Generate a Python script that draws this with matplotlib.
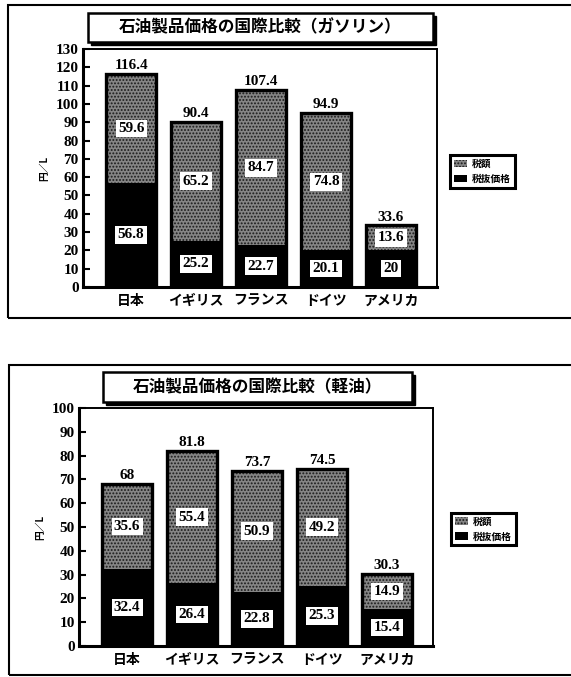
import numpy as np
import matplotlib
matplotlib.use("Agg")
import matplotlib.pyplot as plt
from matplotlib.patches import Rectangle

plt.rcParams['font.family'] = ['Noto Sans CJK JP', 'DejaVu Sans']
plt.rcParams['hatch.linewidth'] = 0.9

countries = ["日本", "イギリス", "フランス", "ドイツ", "アメリカ"]

gas_pretax = [56.8, 25.2, 22.7, 20.1, 20]
gas_tax = [59.6, 65.2, 84.7, 74.8, 13.6]
gas_total = [116.4, 90.4, 107.4, 94.9, 33.6]

diesel_pretax = [32.4, 26.4, 22.8, 25.3, 15.4]
diesel_tax = [35.6, 55.4, 50.9, 49.2, 14.9]
diesel_total = [68, 81.8, 73.7, 74.5, 30.3]

legend_labels = ["税額", "税抜価格"]
titles = ["石油製品価格の国際比較（ガソリン）", "石油製品価格の国際比較（軽油）"]

num_font = "Liberation Serif"


def fmt(v):
    return ("%g" % v)


def draw_chart(ax, pretax, tax, total, ymax, legend_xy):
    x = np.arange(len(countries))
    pretax = np.asarray(pretax)
    tax = np.asarray(tax)
    w = 0.78
    b1 = ax.bar(x, pretax, w, color='black', linewidth=0)
    b2 = ax.bar(x, tax, w, bottom=pretax, color='0.52', edgecolor='0.1',
                hatch='.....', linewidth=0)
    ax.bar(x, pretax + tax, w, fill=False, edgecolor='black', linewidth=2.4)

    for i in range(len(x)):
        ax.text(x[i], pretax[i] / 2.0, fmt(pretax[i]), ha='center', va='center',
                fontsize=11, family=num_font, fontweight='bold',
                bbox=dict(boxstyle='square,pad=0.15', fc='white', ec='none'))
        ax.text(x[i], pretax[i] + tax[i] / 2.0, fmt(tax[i]), ha='center', va='center',
                fontsize=11, family=num_font, fontweight='bold',
                bbox=dict(boxstyle='square,pad=0.15', fc='white', ec='none'))
        ax.text(x[i], pretax[i] + tax[i] + ymax * 0.008, fmt(total[i]), ha='center',
                va='bottom', fontsize=11, family=num_font, fontweight='bold')

    ax.set_xlim(-0.74, 4.71)
    ax.set_ylim(0, ymax)
    ax.set_yticks(np.arange(0, ymax + 1, 10))
    ax.set_yticklabels([str(v) for v in range(0, ymax + 1, 10)], family=num_font,
                       fontsize=11, fontweight='bold')
    ax.set_xticks(x)
    ax.set_xticklabels(countries, fontsize=10, fontweight='bold')
    ax.tick_params(axis='x', length=0, pad=5)
    ax.tick_params(axis='y', direction='in', length=5, width=1.5, pad=3)
    ax.spines['left'].set_linewidth(2.2)
    ax.spines['bottom'].set_linewidth(2.2)
    ax.spines['top'].set_linewidth(1.4)
    ax.spines['right'].set_linewidth(1.4)
    ax.set_ylabel("円／L", fontsize=7, fontweight='bold', labelpad=5)

    leg = ax.legend([b2, b1], legend_labels, loc='upper left',
                    bbox_to_anchor=legend_xy, bbox_transform=ax.figure.transFigure,
                    prop=dict(family='Noto Sans CJK JP', size=7, weight='bold'),
                    fancybox=False, edgecolor='black', framealpha=1,
                    handlelength=1.4, handleheight=0.8, borderpad=0.4,
                    labelspacing=0.5, handletextpad=0.5)
    leg.get_frame().set_linewidth(2.2)


fig = plt.figure(figsize=(5.71, 6.77), dpi=100)

ax1 = fig.add_axes([0.1454, 0.5761, 0.62, 0.3515])
draw_chart(ax1, gas_pretax, gas_tax, gas_total, 130, (0.779, 0.778))

ax2 = fig.add_axes([0.1384, 0.0458, 0.62, 0.3516])
draw_chart(ax2, diesel_pretax, diesel_tax, diesel_total, 100, (0.781, 0.250))

# outer frames
fig.patches.append(Rectangle((0.014, 0.530), 1.0, 0.462, transform=fig.transFigure,
                             fill=False, edgecolor='black', linewidth=1.5))
fig.patches.append(Rectangle((0.016, 0.003), 1.0, 0.458, transform=fig.transFigure,
                             fill=False, edgecolor='black', linewidth=1.5))

# title boxes with a small drop shadow
dx = 3.0 / 571
dy = 3.0 / 677
for (x0, y0, w, h), t in zip([(0.154, 0.938, 0.604, 0.0428),
                              (0.180, 0.406, 0.541, 0.0443)], titles):
    fig.patches.append(Rectangle((x0 + dx, y0 - dy), w, h, transform=fig.transFigure,
                                 facecolor='black', edgecolor='black', linewidth=1))
    fig.patches.append(Rectangle((x0, y0), w, h, transform=fig.transFigure,
                                 facecolor='white', edgecolor='black', linewidth=1.8))
    fig.text(x0 + w / 2, y0 + h / 2, t, ha='center', va='center', fontsize=12,
             fontweight='bold')

plt.savefig('out.png', dpi=100)
